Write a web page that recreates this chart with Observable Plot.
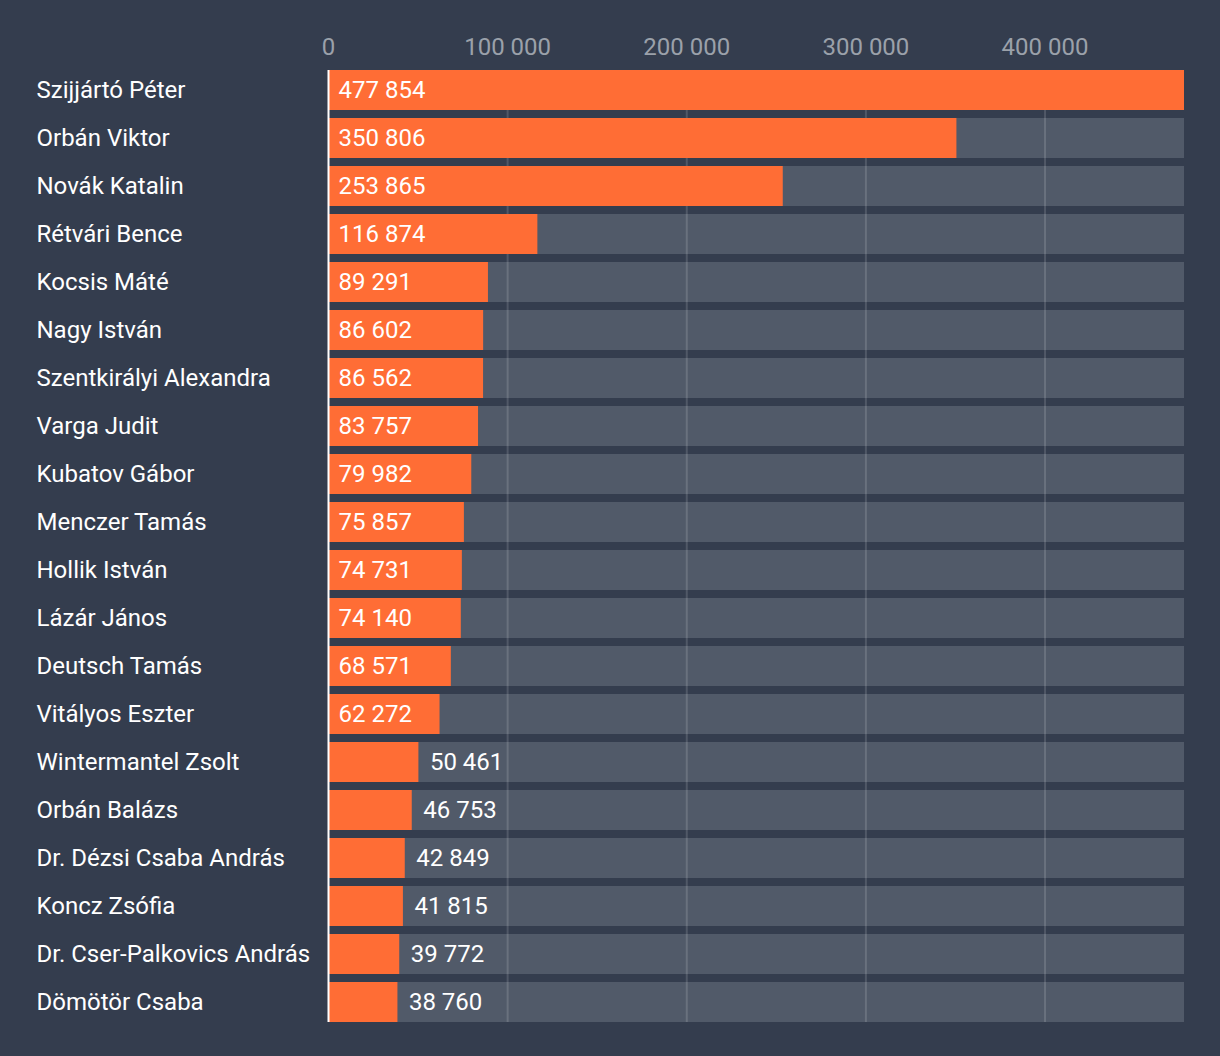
<!DOCTYPE html>
<html>
<head>
<meta charset="utf-8">
<script src="https://cdn.jsdelivr.net/npm/d3@7"></script>
<script src="https://cdn.jsdelivr.net/npm/@observablehq/plot@0.6"></script>
<style>
  html, body { margin: 0; padding: 0; background: #343d4e; }
  #chart svg { display: block; }
</style>
</head>
<body>
<div id="chart"></div>
<script>
const names = [
  "Szijjártó Péter", "Orbán Viktor", "Novák Katalin", "Rétvári Bence", "Kocsis Máté",
  "Nagy István", "Szentkirályi Alexandra", "Varga Judit", "Kubatov Gábor", "Menczer Tamás",
  "Hollik István", "Lázár János", "Deutsch Tamás", "Vitályos Eszter", "Wintermantel Zsolt",
  "Orbán Balázs", "Dr. Dézsi Csaba András", "Koncz Zsófia", "Dr. Cser-Palkovics András", "Dömötör Csaba"
];
const values = [
  477854, 350806, 253865, 116874, 89291,
  86602, 86562, 83757, 79982, 75857,
  74731, 74140, 68571, 62272, 50461,
  46753, 42849, 41815, 39772, 38760
];
const ticks = [0, 100000, 200000, 300000, 400000];

const data = names.map((name, i) => ({name, value: values[i]}));
const maxValue = d3.max(values);
const fmt = d3.formatLocale({decimal: ",", thousands: " ", grouping: [3], currency: ["", ""]}).format(",d");
const inside = d => d.value >= 60000;

const chart = Plot.plot({
  width: 1220,
  height: 1056,
  marginTop: 66,
  marginBottom: 30,
  marginLeft: 328,
  marginRight: 36,
  style: {background: "#343d4e", fontFamily: "Roboto, sans-serif", color: "#ffffff"},
  x: {domain: [0, maxValue], axis: null, label: null},
  y: {domain: names, axis: null, label: null, paddingInner: 8 / 48, paddingOuter: 4 / 48},
  marks: [
    Plot.barX(data, {y: "name", x1: 0, x2: maxValue, fill: "#515a69"}),
    Plot.ruleX(ticks.slice(1), {stroke: "#ffffff", strokeOpacity: 0.14, strokeWidth: 2, insetTop: 4, insetBottom: 4}),
    Plot.barX(data, {y: "name", x1: 0, x2: "value", fill: "#ff6d35"}),
    Plot.ruleX([0], {stroke: "#ffffff", strokeWidth: 2, insetTop: 4, insetBottom: 4}),
    Plot.axisX(ticks, {anchor: "top", label: null, tickSize: 0, tickPadding: 12, tickFormat: fmt, fontSize: 24, fill: "#9ba1aa"}),
    Plot.text(data, {y: "name", frameAnchor: "left", dx: -292, textAnchor: "start", text: "name", fill: "#ffffff", fontSize: 24}),
    Plot.text(data.filter(inside), {y: "name", x: 0, dx: 10, textAnchor: "start", text: d => fmt(d.value), fill: "#ffffff", fontSize: 24}),
    Plot.text(data.filter(d => !inside(d)), {y: "name", x: "value", dx: 11, textAnchor: "start", text: d => fmt(d.value), fill: "#ffffff", fontSize: 24})
  ]
});
document.getElementById("chart").appendChild(chart);
</script>
</body>
</html>
